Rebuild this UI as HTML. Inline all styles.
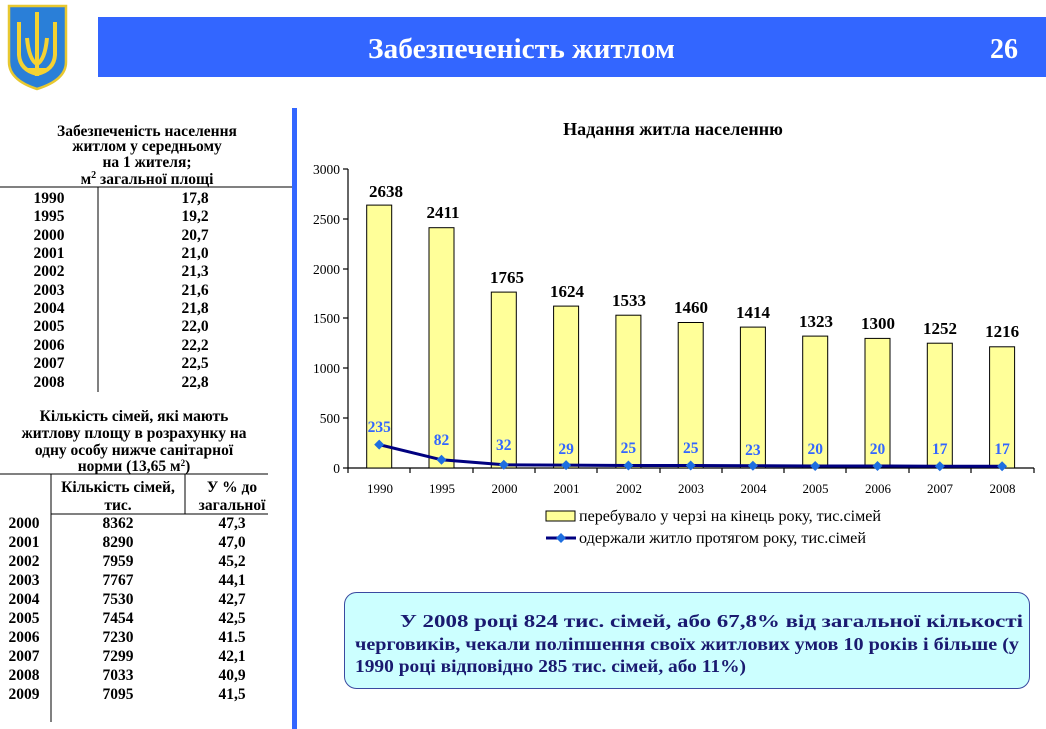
<!DOCTYPE html>
<html><head><meta charset="utf-8"><style>
body{margin:0;width:1046px;height:729px;background:#fff;overflow:hidden}
svg{display:block}
text{font-family:"Liberation Serif",serif}
</style></head><body>
<svg width="1046" height="729" viewBox="0 0 1046 729">
<!-- coat of arms -->
<path d="M9 6 H66 V62 Q66 80 37 89 Q9 80 9 62 Z" fill="#2a7fd8" stroke="#e8c830" stroke-width="2.5"/>
<g stroke="#f4d232" stroke-width="4" fill="none">
<path d="M37 12 V76"/>
<path d="M19 22 V55 Q20 70 37 74 Q54 70 55 55 V22"/>
<path d="M27 38 Q29 60 37 64 Q45 60 47 38"/>
<path d="M28 70 H46"/>
</g>
<!-- header -->
<rect x="98" y="17" width="948" height="60" fill="#3366ff"/>
<text x="368" y="58" font-size="28" font-weight="bold" fill="#fff" textLength="307" lengthAdjust="spacingAndGlyphs">Забезпеченість житлом</text>
<text x="1004" y="58" font-size="28" font-weight="bold" fill="#fff" text-anchor="middle">26</text>
<!-- vertical divider -->
<rect x="292" y="108" width="5" height="621" fill="#3366ff"/>
<!-- table 1 -->
<g font-size="15.5" font-weight="bold" fill="#000" text-anchor="middle">
<text x="147" y="136">Забезпеченість населення</text>
<text x="147" y="151">житлом у середньому</text>
<text x="147" y="167">на 1 жителя;</text>
<text x="147" y="184">м<tspan font-size="10" dy="-6">2</tspan><tspan dy="6">  загальної площі</tspan></text>
</g>
<line x1="0" y1="187" x2="292" y2="187" stroke="#000"/>
<line x1="98" y1="187" x2="98" y2="392" stroke="#000"/>
<g font-size="15.5" font-weight="bold" text-anchor="middle">
<text x="49" y="203">1990</text><text x="195" y="203">17,8</text>
<text x="49" y="221">1995</text><text x="195" y="221">19,2</text>
<text x="49" y="240">2000</text><text x="195" y="240">20,7</text>
<text x="49" y="258">2001</text><text x="195" y="258">21,0</text>
<text x="49" y="276">2002</text><text x="195" y="276">21,3</text>
<text x="49" y="295">2003</text><text x="195" y="295">21,6</text>
<text x="49" y="313">2004</text><text x="195" y="313">21,8</text>
<text x="49" y="331">2005</text><text x="195" y="331">22,0</text>
<text x="49" y="350">2006</text><text x="195" y="350">22,2</text>
<text x="49" y="368">2007</text><text x="195" y="368">22,5</text>
<text x="49" y="387">2008</text><text x="195" y="387">22,8</text>
</g>
<!-- table 2 -->
<g font-size="15.5" font-weight="bold" text-anchor="middle">
<text x="134" y="421">Кількість сімей, які мають</text>
<text x="134" y="438">житлову площу в розрахунку на</text>
<text x="134" y="455">одну особу нижче санітарної</text>
<text x="134" y="471">норми (13,65 м<tspan font-size="9" dy="-5">2</tspan><tspan dy="5">)</tspan></text>
<text x="118" y="492">Кількість сімей,</text>
<text x="118" y="510">тис.</text>
<text x="232" y="492">У % до</text>
<text x="232" y="510">загальної</text>
</g>
<line x1="0" y1="474" x2="268" y2="474" stroke="#000"/>
<line x1="51" y1="474" x2="51" y2="722" stroke="#000"/>
<line x1="185" y1="474" x2="185" y2="514" stroke="#000"/>
<line x1="51" y1="514" x2="268" y2="514" stroke="#000"/>
<g font-size="15.5" font-weight="bold" text-anchor="middle">
<text x="24" y="528">2000</text><text x="118" y="528">8362</text><text x="232" y="528">47,3</text>
<text x="24" y="547">2001</text><text x="118" y="547">8290</text><text x="232" y="547">47,0</text>
<text x="24" y="566">2002</text><text x="118" y="566">7959</text><text x="232" y="566">45,2</text>
<text x="24" y="585">2003</text><text x="118" y="585">7767</text><text x="232" y="585">44,1</text>
<text x="24" y="604">2004</text><text x="118" y="604">7530</text><text x="232" y="604">42,7</text>
<text x="24" y="623">2005</text><text x="118" y="623">7454</text><text x="232" y="623">42,5</text>
<text x="24" y="642">2006</text><text x="118" y="642">7230</text><text x="232" y="642">41.5</text>
<text x="24" y="661">2007</text><text x="118" y="661">7299</text><text x="232" y="661">42,1</text>
<text x="24" y="680">2008</text><text x="118" y="680">7033</text><text x="232" y="680">40,9</text>
<text x="24" y="699">2009</text><text x="118" y="699">7095</text><text x="232" y="699">41,5</text>
</g>
<!-- chart -->
<text x="673" y="135" font-size="18" font-weight="bold" text-anchor="middle">Надання житла населенню</text>
<g stroke="#000" stroke-width="1.2">
<line x1="348" y1="169" x2="348" y2="468"/>
<line x1="348" y1="468" x2="1034" y2="468"/>
<line x1="343" y1="169" x2="348" y2="169"/><line x1="343" y1="219" x2="348" y2="219"/>
<line x1="343" y1="269" x2="348" y2="269"/><line x1="343" y1="318" x2="348" y2="318"/>
<line x1="343" y1="368" x2="348" y2="368"/><line x1="343" y1="418" x2="348" y2="418"/>
<line x1="343" y1="468" x2="348" y2="468"/>
<path d="M348 468v5M410 468v5M473 468v5M535 468v5M597 468v5M660 468v5M722 468v5M784 468v5M846 468v5M909 468v5M971 468v5M1034 468v5"/>
</g>
<g font-size="13.5" text-anchor="end">
<text x="340" y="174">3000</text><text x="340" y="224">2500</text><text x="340" y="274">2000</text>
<text x="340" y="323">1500</text><text x="340" y="373">1000</text><text x="340" y="423">500</text><text x="340" y="473">0</text>
</g>
<g fill="#ffff99" stroke="#000" stroke-width="1">
<rect x="366.7" y="205.1" width="25" height="262.9"/>
<rect x="429" y="227.7" width="25" height="240.3"/>
<rect x="491.3" y="292.1" width="25" height="175.9"/>
<rect x="553.6" y="306.1" width="25" height="161.9"/>
<rect x="615.9" y="315.2" width="25" height="152.8"/>
<rect x="678.2" y="322.5" width="25" height="145.5"/>
<rect x="740.4" y="327.1" width="25" height="140.9"/>
<rect x="802.7" y="336.1" width="25" height="131.9"/>
<rect x="865" y="338.4" width="25" height="129.6"/>
<rect x="927.3" y="343.2" width="25" height="124.8"/>
<rect x="989.6" y="346.8" width="25" height="121.2"/>
</g>
<g font-size="17" font-weight="bold" text-anchor="middle">
<text x="386" y="197">2638</text><text x="443" y="218">2411</text>
<text x="507" y="283">1765</text><text x="567" y="297">1624</text>
<text x="629" y="306">1533</text><text x="691" y="313">1460</text>
<text x="753" y="318">1414</text><text x="816" y="327">1323</text>
<text x="878" y="329">1300</text><text x="940" y="334">1252</text>
<text x="1002.1" y="337">1216</text>
</g>
<polyline fill="none" stroke="#000080" stroke-width="3" points="379.2,444.6 441.5,459.8 503.8,464.8 566.1,465.1 628.4,465.5 690.7,465.5 752.9,465.7 815.2,466 877.5,466 939.8,466.3 1002.1,466.3"/>
<g fill="#1e6fe0">
<path d="M379.2 439.6l5 5-5 5-5-5z"/><path d="M441.5 454.8l5 5-5 5-5-5z"/>
<path d="M503.8 459.8l5 5-5 5-5-5z"/><path d="M566.1 460.1l5 5-5 5-5-5z"/>
<path d="M628.4 460.5l5 5-5 5-5-5z"/><path d="M690.7 460.5l5 5-5 5-5-5z"/>
<path d="M752.9 460.7l5 5-5 5-5-5z"/><path d="M815.2 461l5 5-5 5-5-5z"/>
<path d="M877.5 461l5 5-5 5-5-5z"/><path d="M939.8 461.3l5 5-5 5-5-5z"/>
<path d="M1002.1 461.3l5 5-5 5-5-5z"/>
</g>
<g font-size="15.5" font-weight="bold" fill="#3366ff" text-anchor="middle">
<text x="379.2" y="432">235</text><text x="441.5" y="445">82</text>
<text x="503.8" y="450">32</text><text x="566.1" y="454">29</text>
<text x="628.4" y="453">25</text><text x="690.7" y="453">25</text>
<text x="752.9" y="455">23</text><text x="815.2" y="454">20</text>
<text x="877.5" y="454">20</text><text x="939.8" y="454">17</text>
<text x="1002.1" y="454">17</text>
</g>
<g font-size="13" text-anchor="middle">
<text x="380" y="493">1990</text><text x="442" y="493">1995</text><text x="504.5" y="493">2000</text>
<text x="566.5" y="493">2001</text><text x="629" y="493">2002</text><text x="691" y="493">2003</text>
<text x="753.5" y="493">2004</text><text x="815.5" y="493">2005</text><text x="878" y="493">2006</text>
<text x="940" y="493">2007</text><text x="1002.5" y="493">2008</text>
</g>
<rect x="546" y="511" width="29" height="10" fill="#ffff99" stroke="#000"/>
<text x="579" y="521" font-size="15.5" textLength="302" lengthAdjust="spacingAndGlyphs">перебувало у черзі на кінець року, тис.сімей</text>
<line x1="546" y1="538" x2="576" y2="538" stroke="#000080" stroke-width="3"/>
<path d="M561 533l5 5-5 5-5-5z" fill="#1e6fe0"/>
<text x="579" y="543" font-size="15.5" textLength="287" lengthAdjust="spacingAndGlyphs">одержали житло протягом року, тис.сімей</text>
<!-- note box -->
<rect x="344.5" y="592.5" width="685" height="96" rx="12" fill="#ccffff" stroke="#3a4aa0"/>
<g font-size="18" font-weight="bold" fill="#1a1a70">
<text x="400" y="627" textLength="623" lengthAdjust="spacingAndGlyphs">У 2008 році 824 тис. сімей, або 67,8% від загальної   кількості</text>
<text x="355" y="650" textLength="664" lengthAdjust="spacingAndGlyphs">черговиків, чекали поліпшення своїх житлових умов 10 років і більше (у</text>
<text x="355" y="672" textLength="391" lengthAdjust="spacingAndGlyphs">1990 році  відповідно  285  тис. сімей, або 11%)</text>
</g>
</svg>
</body></html>
